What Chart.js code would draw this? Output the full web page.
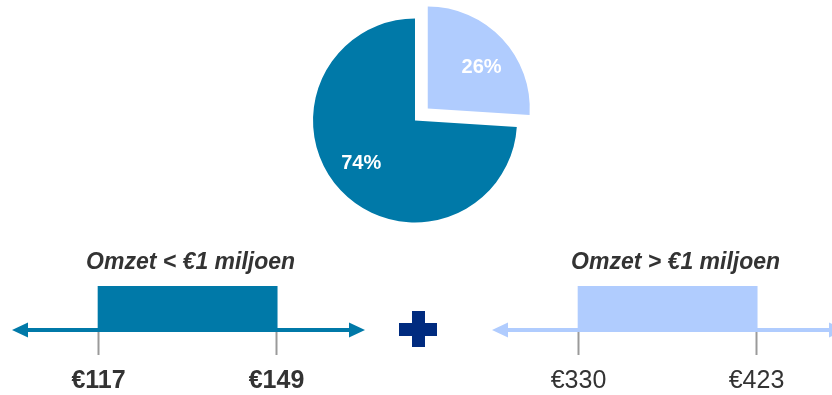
<!DOCTYPE html>
<html>
<head>
<meta charset="utf-8">
<script src="https://cdn.jsdelivr.net/npm/chart.js@4/dist/chart.umd.min.js"></script>
<style>
  html, body { margin: 0; padding: 0; background: #fff; overflow: hidden; }
  #wrap { position: relative; width: 832px; height: 395px; overflow: hidden; }
  canvas { position: absolute; }
  #pie { left: 0; top: 0; }
  #rangeLow { left: 0; top: 240px; }
  #rangeHigh { left: 416px; top: 240px; }
  .plus { position: absolute; background: #002b7f; }
</style>
</head>
<body>
<div id="wrap">
  <canvas id="pie" width="832" height="240"></canvas>
  <canvas id="rangeLow" width="416" height="155"></canvas>
  <canvas id="rangeHigh" width="444" height="155"></canvas>
  <div class="plus" style="left:399px; top:323px; width:38px; height:13px;"></div>
  <div class="plus" style="left:412px; top:311px; width:13px; height:36px;"></div>
</div>
<script>
// share of companies by turnover group
const shareLabels = ["Omzet < €1 miljoen", "Omzet > €1 miljoen"];
const shareValues = [74, 26];

// price ranges per group
const lowTitle = "Omzet < €1 miljoen";
const lowRange = [117, 149];
const highTitle = "Omzet > €1 miljoen";
const highRange = [330, 423];

const DARK = "#0079a8";
const LIGHT = "#b0ccfe";
const FONT = "'Liberation Sans', Arial, sans-serif";

// pie draws clockwise from 12 o'clock, so put the small slice first
const pieLabels = [shareLabels[1], shareLabels[0]];
const pieValues = [shareValues[1], shareValues[0]];

const sliceLabels = {
  id: "sliceLabels",
  afterDatasetsDraw(chart) {
    const ctx = chart.ctx;
    const meta = chart.getDatasetMeta(0);
    const ds = chart.data.datasets[0];
    ctx.save();
    ctx.fillStyle = "#fff";
    ctx.font = "bold 20px " + FONT;
    ctx.textAlign = "center";
    ctx.textBaseline = "middle";
    meta.data.forEach((arc, i) => {
      const p = arc.getProps(["x", "y", "startAngle", "endAngle", "outerRadius"], true);
      const mid = (p.startAngle + p.endAngle) / 2;
      const off = (ds.offset[i] || 0) / 4;
      const a = mid + 0.09;
      const r = p.outerRadius * 0.67;
      const x = p.x + Math.cos(mid) * off + Math.cos(a) * r;
      const y = p.y + Math.sin(mid) * off + Math.sin(a) * r + 1;
      ctx.fillText(pieValues[i] + "%", x, y);
    });
    ctx.restore();
  }
};

new Chart(document.getElementById("pie"), {
  type: "pie",
  data: {
    labels: pieLabels,
    datasets: [{
      data: pieValues,
      backgroundColor: [LIGHT, DARK],
      borderWidth: 0,
      offset: [70, 0]
    }]
  },
  options: {
    responsive: false,
    animation: false,
    radius: 102,
    layout: { padding: { top: 1, right: 2 } },
    plugins: { legend: { display: false }, tooltip: { enabled: false } }
  },
  plugins: [sliceLabels]
});

// axis line with arrows, tick marks, end values and a title
const rangeDecor = {
  id: "rangeDecor",
  beforeDatasetsDraw(chart, args, opts) {
    const { ctx, chartArea: a } = chart;
    const y = a.bottom - 2;
    ctx.save();
    ctx.strokeStyle = opts.color;
    ctx.fillStyle = opts.color;
    ctx.lineWidth = 4;
    ctx.beginPath();
    ctx.moveTo(a.left + 12, y);
    ctx.lineTo(a.right - 12, y);
    ctx.stroke();
    ctx.beginPath();
    ctx.moveTo(a.left, y);
    ctx.lineTo(a.left + 16, y - 7.5);
    ctx.lineTo(a.left + 16, y + 7.5);
    ctx.closePath();
    ctx.moveTo(a.right, y);
    ctx.lineTo(a.right - 16, y - 7.5);
    ctx.lineTo(a.right - 16, y + 7.5);
    ctx.closePath();
    ctx.fill();
    ctx.restore();
  },
  afterDatasetsDraw(chart, args, opts) {
    const { ctx, chartArea: a } = chart;
    const xs = chart.scales.x;
    const range = chart.data.datasets[0].data[0];
    ctx.save();
    ctx.strokeStyle = "#9a9a9a";
    ctx.lineWidth = 2;
    ctx.fillStyle = "#333";
    ctx.textAlign = "center";
    ctx.textBaseline = "middle";
    ctx.font = (opts.boldValues ? "bold " : "") + "25px " + FONT;
    range.forEach(v => {
      const x = Math.round(xs.getPixelForValue(v)) + 0.5 * (v === range[0] ? 1 : -1);
      ctx.beginPath();
      ctx.moveTo(x, a.bottom);
      ctx.lineTo(x, a.bottom + 23);
      ctx.stroke();
      ctx.fillText("€" + v, x, a.bottom + 49);
    });
    const cx = (xs.getPixelForValue(range[0]) + xs.getPixelForValue(range[1])) / 2;
    ctx.font = "italic bold 23px " + FONT;
    ctx.fillText(opts.title, cx + opts.titleShift, a.top - 23);
    ctx.restore();
  }
};

function rangeChart(id, title, range, color, boldValues, padding, titleShift) {
  const span = range[1] - range[0];
  return new Chart(document.getElementById(id), {
    type: "bar",
    data: {
      labels: [title],
      datasets: [{
        data: [range],
        backgroundColor: color,
        borderWidth: 0,
        borderSkipped: false,
        barPercentage: 1,
        categoryPercentage: 1
      }]
    },
    options: {
      responsive: false,
      animation: false,
      indexAxis: "y",
      layout: { padding },
      scales: {
        x: { type: "linear", display: false, min: range[0] - span * 0.48, max: range[1] + span * 0.49 },
        y: { display: false }
      },
      plugins: {
        legend: { display: false },
        tooltip: { enabled: false },
        rangeDecor: { color, title, boldValues, titleShift }
      }
    },
    plugins: [rangeDecor]
  });
}

rangeChart("rangeLow", lowTitle, lowRange, DARK, true,
  { left: 12, right: 51, top: 46, bottom: 63 }, 3);
rangeChart("rangeHigh", highTitle, highRange, LIGHT, false,
  { left: 76, right: 15, top: 46, bottom: 63 }, 8);
</script>
</body>
</html>
